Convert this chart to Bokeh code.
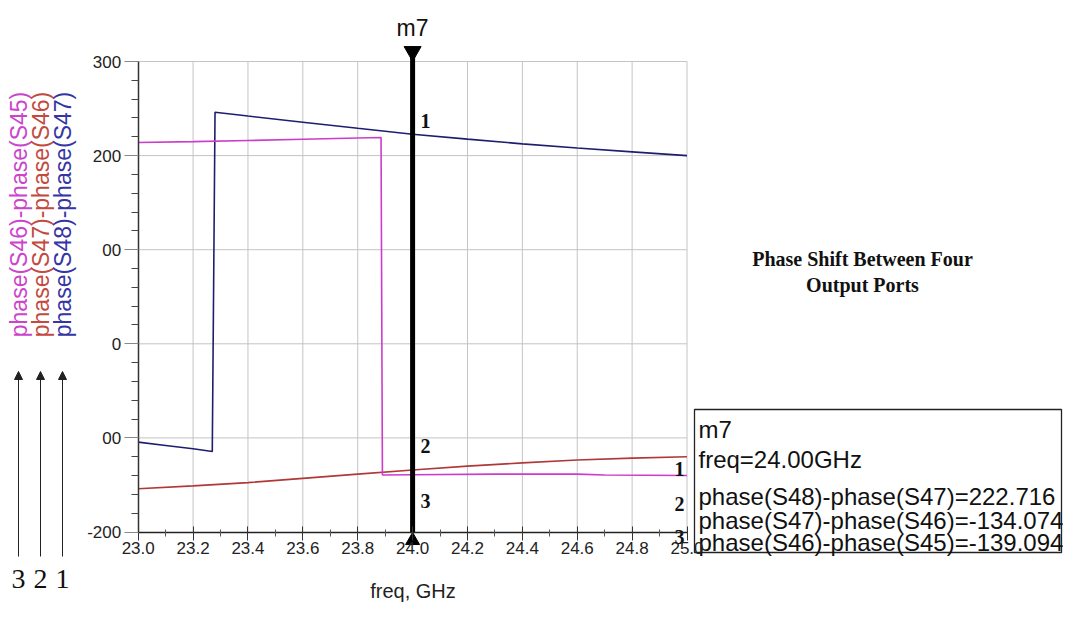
import numpy as np
from bokeh.plotting import figure
from bokeh.models import LinearAxis, FixedTicker, Range1d, PrintfTickFormatter, Arrow, NormalHead
from bokeh.core.properties import value
from bokeh.embed import file_html
from bokeh.resources import INLINE

# ---------------- data ----------------
freq_s48_s47 = [23.0, 23.1, 23.2, 23.27, 23.28, 23.4, 23.6, 23.8, 24.0, 24.2, 24.4, 24.6, 24.8, 25.0]
phase_s48_s47 = [-104.5, -108.0, -111.5, -114.5, 246.0, 242.0, 235.5, 229.0, 222.716, 217.5, 212.5, 208.0, 204.0, 200.0]

freq_s47_s46 = [23.0, 23.2, 23.4, 23.6, 23.8, 24.0, 24.2, 24.4, 24.6, 24.8, 25.0]
phase_s47_s46 = [-154.0, -151.0, -147.5, -143.0, -138.5, -134.074, -130.0, -126.5, -123.5, -121.5, -120.0]

freq_s46_s45 = [23.0, 23.2, 23.4, 23.6, 23.8, 23.885, 23.89, 24.0, 24.3, 24.6, 24.7, 25.0]
phase_s46_s45 = [214.0, 214.8, 216.0, 217.3, 218.7, 219.2, -139.5, -139.094, -138.5, -138.5, -139.5, -140.0]

series_names = ["phase(S48)-phase(S47)", "phase(S47)-phase(S46)", "phase(S46)-phase(S45)"]
series_colors = ["#1e1e70", "#b03838", "#cc3ccc"]
label_colors = ["#3535a5", "#c24a40", "#cc44cc"]

marker_name = "m7"
marker_freq = 24.0
marker_values = [222.716, -134.074, -139.094]

x_ticks = [23.0, 23.2, 23.4, 23.6, 23.8, 24.0, 24.2, 24.4, 24.6, 24.8, 25.0]
x_minor = [23.1, 23.3, 23.5, 23.7, 23.9, 24.1, 24.3, 24.5, 24.7, 24.9]
y_ticks = [-200, -100, 0, 100, 200, 300]
y_minor = [v for v in range(-180, 300, 20) if v % 100 != 0]
y_tick_text = {300: "300", 200: "200", 100: "00", 0: "0", -100: "00", -200: "-200"}

title_lines = ["Phase Shift Between Four", "Output Ports"]
x_label = "freq, GHz"

# ---------------- layout ----------------
W, H = 1063, 619
OFF = 0                           # observed page offset of the canvas
X0_PX, X1_PX = 137.7, 686.5       # canvas px of 23.0 and 25.0
Y_TOP_PX, Y_BOT_PX = 61.0, 531.5  # canvas px (from top) of 300 and -200
sx = (X1_PX - X0_PX) / 2.0
sy = (Y_BOT_PX - Y_TOP_PX) / 500.0
x_start = 23.0 - X0_PX / sx
x_end = 23.0 + (W - X0_PX) / sx
y_end = 300.0 + Y_TOP_PX / sy
y_start = -200.0 - (H - Y_BOT_PX) / sy


def fx(page_x):
    return 23.0 + (page_x - OFF - X0_PX) / sx


def fy(page_y):
    return 300.0 - (page_y - OFF - Y_TOP_PX) / sy


p = figure(width=W, height=H, x_range=Range1d(x_start, x_end), y_range=Range1d(y_start, y_end),
           output_backend="svg", toolbar_location=None, x_axis_type=None, y_axis_type=None,
           min_border=0)
p.outline_line_color = None
p.background_fill_color = "white"
p.border_fill_color = "white"

sans = value("Liberation Sans")
serif = value("Liberation Serif")

# axes
xaxis = LinearAxis(fixed_location=-200, bounds=(23.0, 25.0),
                   ticker=FixedTicker(ticks=x_ticks, minor_ticks=x_minor),
                   formatter=PrintfTickFormatter(format="%.1f"),
                   axis_label=x_label)
xaxis.axis_line_color = "#222222"
xaxis.axis_line_width = 1.5
xaxis.major_tick_in = 6
xaxis.major_tick_out = 8
xaxis.minor_tick_in = 3
xaxis.minor_tick_out = 4
xaxis.major_tick_line_color = "#333333"
xaxis.minor_tick_line_color = "#555555"
xaxis.major_label_standoff = 2
xaxis.major_label_text_font = "Liberation Sans"
xaxis.major_label_text_font_size = "17px"
xaxis.major_label_text_color = "#222222"
xaxis.axis_label_standoff = 22
xaxis.axis_label_text_font = "Liberation Sans"
xaxis.axis_label_text_font_style = "normal"
xaxis.axis_label_text_font_size = "20px"
xaxis.axis_label_text_color = "#222222"
p.add_layout(xaxis, "below")

yaxis = LinearAxis(fixed_location=23.0, bounds=(-200, 300),
                   ticker=FixedTicker(ticks=y_ticks, minor_ticks=y_minor),
                   major_label_overrides=y_tick_text)
yaxis.axis_line_color = "#333333"
yaxis.axis_line_width = 1.5
yaxis.major_tick_in = 0
yaxis.major_tick_out = 14
yaxis.minor_tick_in = 0
yaxis.minor_tick_out = 7
yaxis.major_tick_line_color = "#888888"
yaxis.minor_tick_line_color = "#444444"
yaxis.major_label_standoff = 3
yaxis.major_label_text_font = "Liberation Sans"
yaxis.major_label_text_font_size = "17px"
yaxis.major_label_text_color = "#222222"
p.add_layout(yaxis, "left")

# grid lines (from tick lists)
hx = [t for t in y_ticks if t != -200]
p.segment(x0=[23.0] * len(hx), x1=[25.0] * len(hx), y0=hx, y1=hx, line_color="#c4c4c4", line_width=1)
vx = [t for t in x_ticks if t != 23.0]
p.segment(x0=vx, x1=vx, y0=[-200] * len(vx), y1=[300] * len(vx), line_color="#c4c4c4", line_width=1)

# traces
p.line(freq_s48_s47, phase_s48_s47, line_color=series_colors[0], line_width=1.6)
p.line(freq_s47_s46, phase_s47_s46, line_color=series_colors[1], line_width=1.6)
p.line(freq_s46_s45, phase_s46_s45, line_color=series_colors[2], line_width=1.6)

# marker m7
p.segment(x0=[marker_freq], x1=[marker_freq], y0=[-200], y1=[fy(46)], line_color="black", line_width=5)
p.scatter(x=[marker_freq], y=[fy(51)], marker="inverted_triangle", size=17, color="black")
p.scatter(x=[marker_freq], y=[fy(540)], marker="triangle", size=14, color="black")
p.text(x=[marker_freq], y=[fy(27)], text=[marker_name], text_align="center", text_baseline="middle",
       text_font=sans, text_font_size="23px", text_color="#111111")

# trace numbers near marker
p.text(x=[fx(425)] * 3, y=[fy(120), fy(445), fy(500)], text=["1", "2", "3"],
       text_align="center", text_baseline="middle", text_font=serif, text_font_style="bold",
       text_font_size="20px", text_color="#111111")
# trace numbers at right end
p.text(x=[fx(679)] * 3, y=[fy(468), fy(503), fy(536)], text=["1", "2", "3"],
       text_align="center", text_baseline="middle", text_font=serif, text_font_style="bold",
       text_font_size="20px", text_color="#111111")

# marker readout box
p.quad(left=[fx(694)], right=[fx(1061)], top=[fy(409)], bottom=[fy(552)],
       fill_color="white", line_color="#222222", line_width=1.3)
box_lines = [marker_name, "freq=%.2fGHz" % marker_freq] + \
            ["%s=%.3f" % (n, v) for n, v in zip(series_names, marker_values)]
box_y = [fy(429), fy(459), fy(496), fy(520), fy(542)]
p.text(x=[fx(698)] * len(box_lines), y=box_y, text=box_lines, text_align="left", text_baseline="middle",
       text_font=sans, text_font_size="24px", text_color="#111111")

# title
p.text(x=[fx(862)] * 2, y=[fy(258), fy(284)], text=title_lines, text_align="center", text_baseline="middle",
       text_font=serif, text_font_style="bold", text_font_size="20px", text_color="#111111")

# rotated series labels on the left (3 = S46-S45, 2 = S47-S46, 1 = S48-S47)
left_x = [fx(18), fx(40), fx(62)]
left_names = [series_names[2], series_names[1], series_names[0]]
left_cols = [label_colors[2], label_colors[1], label_colors[0]]
p.text(x=left_x, y=[fy(214)] * 3, text=left_names, angle=np.pi / 2, text_align="center",
       text_baseline="middle", text_font=sans, text_font_size="23px", text_color=left_cols)
for xx in left_x:
    p.add_layout(Arrow(end=NormalHead(size=8, fill_color="#222222", line_color="#222222"),
                       x_start=xx, y_start=fy(556), x_end=xx, y_end=fy(371),
                       line_color="#222222", line_width=1))
p.text(x=left_x, y=[fy(578)] * 3, text=["3", "2", "1"], text_align="center", text_baseline="middle",
       text_font=serif, text_font_size="28px", text_color="#111111")

open("out.html", "w").write(file_html(p, INLINE))
